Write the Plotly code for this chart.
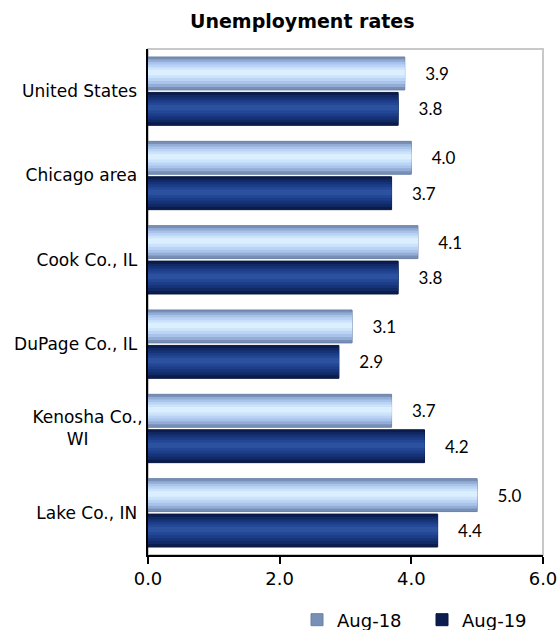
import plotly.graph_objects as go

categories = ["United States", "Chicago area", "Cook Co., IL", "DuPage Co., IL",
              "Kenosha Co.,<br>WI" + "\u00a0" * 9, "Lake Co., IN"]
aug18 = [3.9, 4.0, 4.1, 3.1, 3.7, 5.0]
aug19 = [3.8, 3.7, 3.8, 2.9, 4.2, 4.4]
tick_vals = [0, 2, 4, 6]
tick_text = ["0.0", "2.0", "4.0", "6.0"]

FONT = "DejaVu Sans"
LABEL_FONT = "Lato"
fig = go.Figure()

W = 0.39
series = [
    ("Aug-18", aug18, -0.405,
     ["#7890B6", "#93ADD6", "#A9C3EA", "#BBD4F5", "#CCE3FC", "#DCEFFF"], "#6A80A6"),
    ("Aug-19", aug19, 0.015,
     ["#0B1D4E", "#112A66", "#163378", "#1C3D88", "#234794", "#2B519F"], "#08173F"),
]
for name, vals, off, cols, edge in series:
    fig.add_trace(go.Bar(
        y=categories, x=vals, orientation="h", name=name,
        width=W, offset=off,
        marker=dict(color=cols[0], line=dict(color=edge, width=1)),
        text=["\u00a0\u00a0\u00a0\u00a0" + f"{v:.1f}" for v in vals],
        textposition="outside", cliponaxis=False,
        textfont=dict(family=LABEL_FONT, size=17, color="#000000"),
        showlegend=True,
    ))
    n = len(cols) - 1
    for i, c in enumerate(cols[1:], start=1):
        f = 1 - i / (n + 1)
        w = W * f
        fig.add_trace(go.Bar(
            y=categories, x=vals, orientation="h", name=name,
            width=w, offset=off + (W - w) / 2 - 0.015 * (1 - f),
            marker=dict(color=c, line=dict(width=0)),
            showlegend=False, hoverinfo="skip",
        ))

fig.update_layout(
    width=559, height=630,
    barmode="overlay",
    paper_bgcolor="white", plot_bgcolor="white",
    margin=dict(l=148, r=16, t=49, b=75, pad=0, autoexpand=False),
    font=dict(family=FONT, size=17, color="#000000"),
    title=dict(text="<b>Unemployment rates</b>", x=190 / 559, xanchor="left", xref="container",
               y=1 - 21 / 630, yanchor="middle",
               font=dict(family=FONT, size=19, color="#000000")),
    xaxis=dict(range=[0, 6], tickvals=tick_vals, ticktext=tick_text, automargin=False,
               showgrid=False, zeroline=False, showline=True, linecolor="#000000",
               linewidth=1.5, ticks="outside", ticklen=7, tickwidth=1.5, tickcolor="#000000",
               tickfont=dict(family=FONT, size=18)),
    yaxis=dict(autorange="reversed", showgrid=False, zeroline=False, automargin=False,
               showline=True, linecolor="#000000", linewidth=2, ticks="",
               ticksuffix="\u00a0", tickfont=dict(family=FONT, size=17)),
    legend=dict(orientation="h", x=297 / 559, xanchor="left", xref="container",
                y=1 - 620 / 630, yanchor="middle", yref="container",
                font=dict(family=FONT, size=18), traceorder="normal",
                itemwidth=30, entrywidthmode="pixels", entrywidth=80),
    bargap=0.2,
    shapes=[dict(type="rect", xref="paper", yref="paper", x0=0, x1=1, y0=0, y1=1,
                 line=dict(color="#C8C8C8", width=2), layer="below")],
)

fig.write_html("out.html", config={"displayModeBar": False},
               post_script="document.body.style.margin='0';")
